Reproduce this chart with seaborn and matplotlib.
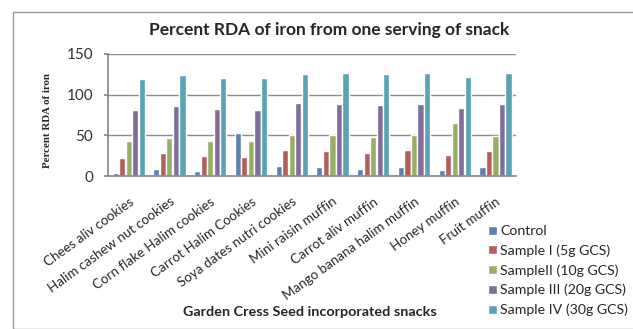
import matplotlib.pyplot as plt
import matplotlib.patches as mpatches
import pandas as pd
import seaborn as sns

sns.set_theme(style='white')
plt.rcParams['font.family'] = ['Lato', 'DejaVu Sans']

snacks = ["Chees aliv cookies", "Halim cashew nut cookies", "Corn flake Halim cookies",
          "Carrot Halim Cookies", "Soya dates nutri cookies", "Mini raisin muffin",
          "Carrot aliv muffin", "Mango banana halim muffin", "Honey muffin", "Fruit muffin"]
series = ["Control", "Sample I (5g GCS)", "SampleII (10g GCS)",
          "Sample III (20g GCS)", "Sample IV (30g GCS)"]

control = [3.5, 9, 6, 52.5, 12, 11, 9, 11, 7, 11]
sample1 = [22, 28.5, 24.5, 23.5, 31.5, 30.5, 28, 31.5, 26, 30.5]
sample2 = [42.5, 47, 43.5, 43.5, 51, 51, 48, 51, 65, 49]
sample3 = [81.5, 86.5, 82, 81.5, 90, 89, 87, 89, 84, 89]
sample4 = [119, 124, 121, 121, 125, 126, 125, 127, 122, 126]

colors = ["#4F81BD", "#C0504D", "#9BBB59", "#8064A2", "#4BACC6"]

rows = []
for name, vals in zip(series, [control, sample1, sample2, sample3, sample4]):
    for snack, v in zip(snacks, vals):
        rows.append({"snack": snack, "series": name, "value": v})
df = pd.DataFrame(rows)

fig = plt.figure(figsize=(6.33, 3.29), dpi=100)
ax = fig.add_axes([0.171, 0.465, 0.644, 0.371])

sns.barplot(data=df, x="snack", y="value", hue="series", palette=colors,
            width=0.8, gap=0.06, ax=ax, legend=True)

ax.set_ylim(0, 150)
ax.set_yticks([0, 50, 100, 150])
ax.yaxis.grid(True, color='#8a8a8a', linewidth=1)
ax.set_axisbelow(True)
for s in ['top', 'right']:
    ax.spines[s].set_visible(False)
ax.spines['left'].set_color('#8a8a8a')
ax.spines['bottom'].set_color('#8a8a8a')
ax.tick_params(axis='y', labelsize=11, length=3, left=True, color='#8a8a8a',
               pad=8, labelcolor='#333333')
ax.set_xticks(range(len(snacks)))
ax.set_xticklabels(snacks, rotation=36, ha='right', rotation_mode='anchor', fontsize=9.6)
ax.tick_params(axis='x', pad=8)
ax.set_xlabel("")
ax.set_ylabel("Percent RDA of iron", fontsize=7.8, fontweight='bold',
              family='Liberation Serif')
ax.yaxis.set_label_coords(-0.138, 0.455)

handles, labels = ax.get_legend_handles_labels()
ax.get_legend().remove()
fig.legend(handles, labels, loc='upper left', bbox_to_anchor=(0.762, 0.333),
           frameon=False, fontsize=10.2, handlelength=0.6, handleheight=0.6,
           handletextpad=0.25, labelspacing=0.51, borderaxespad=0)

fig.text(329 / 633, 1 - 30 / 329, "Percent RDA of iron from one serving of snack",
         ha='center', va='center', fontsize=12.5, fontweight='bold')
fig.text(310 / 633, 1 - 312 / 329, "Garden Cress Seed incorporated snacks",
         ha='center', va='center', fontsize=10.4, fontweight='bold')

fig.patches.append(mpatches.Rectangle((12.5 / 633, 0), 1.2, 1 - 12 / 329,
                                      transform=fig.transFigure, fill=False,
                                      edgecolor='#9a9a9a', linewidth=1))

fig.savefig("out.png", dpi=100)
